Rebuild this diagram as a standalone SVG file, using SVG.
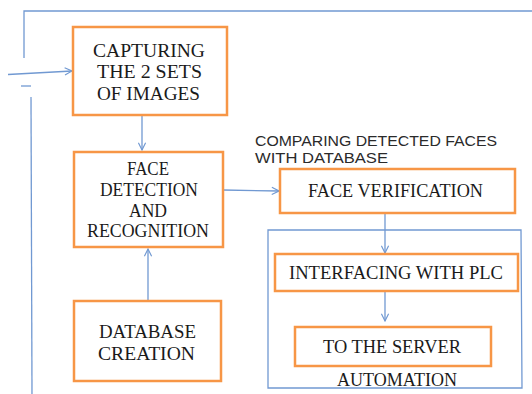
<svg xmlns="http://www.w3.org/2000/svg" width="532" height="394" viewBox="0 0 532 394">
<style>
.box{fill:#fff;stroke:#F79646;stroke-width:2.5}
.ln{fill:none;stroke:#7199D2;stroke-width:1.3}
.t{font-family:"Liberation Serif",serif;font-size:18.5px;fill:#1a1a1a;text-anchor:middle}
.lbl{font-family:"Liberation Sans",sans-serif;font-size:15px;fill:#2a2a2a}
</style>
<defs>
<marker id="ah" viewBox="0 0 10 10" refX="9" refY="5" markerWidth="9" markerHeight="9" markerUnits="userSpaceOnUse" orient="auto">
<polyline points="1,1 9,5 1,9" fill="none" stroke="#7199D2" stroke-width="1.3"/>
</marker>
</defs>
<rect width="532" height="394" fill="#fff"/>
<g id="connectors">
<polyline class="ln" points="24,58 24,11 532,11"/>
<line class="ln" x1="8" y1="74.5" x2="72" y2="71" marker-end="url(#ah)"/>
<line class="ln" x1="21" y1="86" x2="31" y2="86"/>
<line class="ln" x1="31" y1="97" x2="32" y2="394"/>
<line class="ln" x1="142" y1="115" x2="142" y2="150" marker-end="url(#ah)"/>
<line class="ln" x1="148" y1="301" x2="148" y2="249" marker-end="url(#ah)"/>
<line class="ln" x1="223" y1="190" x2="279" y2="191" marker-end="url(#ah)"/>
<line class="ln" x1="385" y1="213" x2="385" y2="253" marker-end="url(#ah)"/>
<line class="ln" x1="385" y1="291" x2="385" y2="321" marker-end="url(#ah)"/>
</g>
<g id="automation">
<polygon class="ln" points="268,230 521,230 522,388 268,388"/>
<text class="t" x="397" y="386" textLength="120" lengthAdjust="spacingAndGlyphs">AUTOMATION</text>
</g>
<g id="capturing">
<rect class="box" x="73" y="27" width="154" height="88"/>
<text class="t" x="149" y="57" textLength="112" lengthAdjust="spacingAndGlyphs">CAPTURING</text>
<text class="t" x="149.5" y="78" textLength="105" lengthAdjust="spacingAndGlyphs">THE 2 SETS</text>
<text class="t" x="148.5" y="100" textLength="103" lengthAdjust="spacingAndGlyphs">OF IMAGES</text>
</g>
<g id="detection">
<rect class="box" x="74" y="152" width="149" height="95"/>
<text class="t" x="148" y="175" textLength="42" lengthAdjust="spacingAndGlyphs">FACE</text>
<text class="t" x="149" y="196" textLength="98" lengthAdjust="spacingAndGlyphs">DETECTION</text>
<text class="t" x="148" y="217" textLength="38" lengthAdjust="spacingAndGlyphs">AND</text>
<text class="t" x="148" y="237" textLength="122" lengthAdjust="spacingAndGlyphs">RECOGNITION</text>
</g>
<g id="database">
<rect class="box" x="74" y="301" width="147" height="80"/>
<text class="t" x="147.5" y="338" textLength="97" lengthAdjust="spacingAndGlyphs">DATABASE</text>
<text class="t" x="146.5" y="360" textLength="97" lengthAdjust="spacingAndGlyphs">CREATION</text>
</g>
<g id="comparing-label">
<text class="lbl" x="255" y="146" textLength="242" lengthAdjust="spacingAndGlyphs">COMPARING DETECTED FACES</text>
<text class="lbl" x="255" y="163" textLength="133" lengthAdjust="spacingAndGlyphs">WITH DATABASE</text>
</g>
<g id="verification">
<rect class="box" x="280" y="169" width="235" height="44"/>
<text class="t" x="395.5" y="197" textLength="175" lengthAdjust="spacingAndGlyphs">FACE VERIFICATION</text>
</g>
<g id="plc">
<rect class="box" x="275" y="254" width="243" height="37"/>
<text class="t" x="396" y="279" textLength="214" lengthAdjust="spacingAndGlyphs">INTERFACING WITH PLC</text>
</g>
<g id="server">
<rect class="box" x="295" y="327" width="196" height="39"/>
<text class="t" x="392" y="353" textLength="138" lengthAdjust="spacingAndGlyphs">TO THE SERVER</text>
</g>
</svg>
